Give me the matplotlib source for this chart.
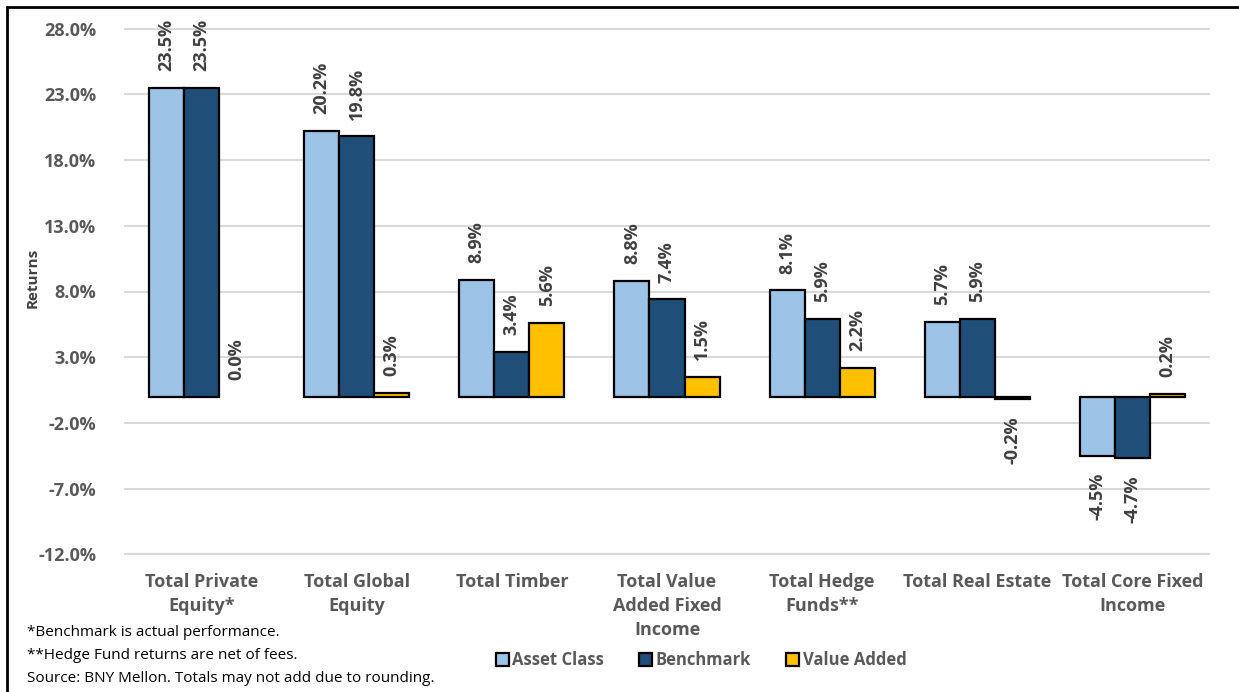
import matplotlib.pyplot as plt
import numpy as np
from matplotlib.patches import Rectangle, Patch

plt.rcParams['font.family'] = ['Open Sans', 'DejaVu Sans']

# Chart data
categories = ['Total Private\nEquity*', 'Total Global\nEquity', 'Total Timber',
              'Total Value\nAdded Fixed\nIncome', 'Total Hedge\nFunds**',
              'Total Real Estate', 'Total Core Fixed\nIncome']
asset_class = [23.5, 20.2, 8.9, 8.8, 8.1, 5.7, -4.5]
benchmark = [23.5, 19.8, 3.4, 7.4, 5.9, 5.9, -4.7]
value_added = [0.0, 0.3, 5.6, 1.5, 2.2, -0.2, 0.2]
series_names = ['Asset Class', 'Benchmark', 'Value Added']
yticks = [-12, -7, -2, 3, 8, 13, 18, 23, 28]
footnotes = ['*Benchmark is actual performance.',
             '**Hedge Fund returns are net of fees.',
             'Source: BNY Mellon. Totals may not add due to rounding.']

colors = ['#9DC3E6', '#1F4E79', '#FFC000']
tick_gray = '#595959'
label_gray = '#404040'
fs = 13

W, H = 1239, 692
fig = plt.figure(figsize=(W / 100, H / 100), dpi=100)
ax = fig.add_axes([124 / W, 1 - 555 / H, (1210 - 124) / W, (555 - 28) / H])

x = np.arange(len(categories))
width = 0.226
series = [asset_class, benchmark, value_added]

for i, (vals, col, name) in enumerate(zip(series, colors, series_names)):
    pos = x + (i - 1) * width
    # a zero-height bar shows no outline in the original
    lws = [1.6 if v != 0 else 0 for v in vals]
    ax.bar(pos, vals, width=width, color=col, edgecolor='black', linewidth=lws,
           zorder=3)
    for px, v in zip(pos, vals):
        if v >= 0:
            ax.annotate('%.1f%%' % v, (px, v), xytext=(0, 12), textcoords='offset points',
                        rotation=90, ha='center', va='bottom', fontsize=fs,
                        fontweight='bold', color=label_gray)
        else:
            ax.annotate('%.1f%%' % v, (px, v), xytext=(0, -12), textcoords='offset points',
                        rotation=90, ha='center', va='top', fontsize=fs,
                        fontweight='bold', color=label_gray)

ax.set_xlim(-0.5, len(categories) - 0.5)
ax.set_ylim(-12.05, 28.05)
ax.set_yticks(yticks)
ax.set_yticklabels(['%.1f%%' % t for t in yticks], fontsize=fs, fontweight='bold',
                   color=tick_gray)
ax.set_xticks(x)
ax.set_xticklabels(categories, fontsize=fs, fontweight='bold', color=tick_gray,
                   linespacing=1.42, va='top')
ax.tick_params(axis='both', length=0)
ax.tick_params(axis='y', pad=20)
ax.tick_params(axis='x', pad=13)
ax.grid(axis='y', color='#D9D9D9', linewidth=1.5, zorder=0)
for s in ax.spines.values():
    s.set_visible(False)

fig.text(33 / W, 1 - 278 / H, 'Returns', rotation=90, ha='center', va='center',
         fontsize=11, fontweight='bold', color=label_gray)

handles = [Patch(facecolor=c, edgecolor='black', linewidth=1.6, label=n)
           for c, n in zip(colors, series_names)]
leg = fig.legend(handles=handles, loc='center', bbox_to_anchor=(701 / W, 1 - 660 / H),
                 ncol=3, frameon=False, fontsize=12, handlelength=0.8, handleheight=0.8,
                 handletextpad=0.2, columnspacing=2.1, borderpad=0)
for t in leg.get_texts():
    t.set_fontweight('bold')
    t.set_color(tick_gray)

for k, note in enumerate(footnotes):
    fig.text(27 / W, 1 - (633 + 22.5 * k) / H, note, ha='left', va='center',
             fontsize=11, color='black')

# outer chart border (only the top and left edges fall inside the image)
fig.patches.append(Rectangle((7 / W, -0.1), 1.2, 1 - 7 / H + 0.1, transform=fig.transFigure,
                             fill=False, edgecolor='black', linewidth=2))

fig.savefig('out.png', dpi=100)
